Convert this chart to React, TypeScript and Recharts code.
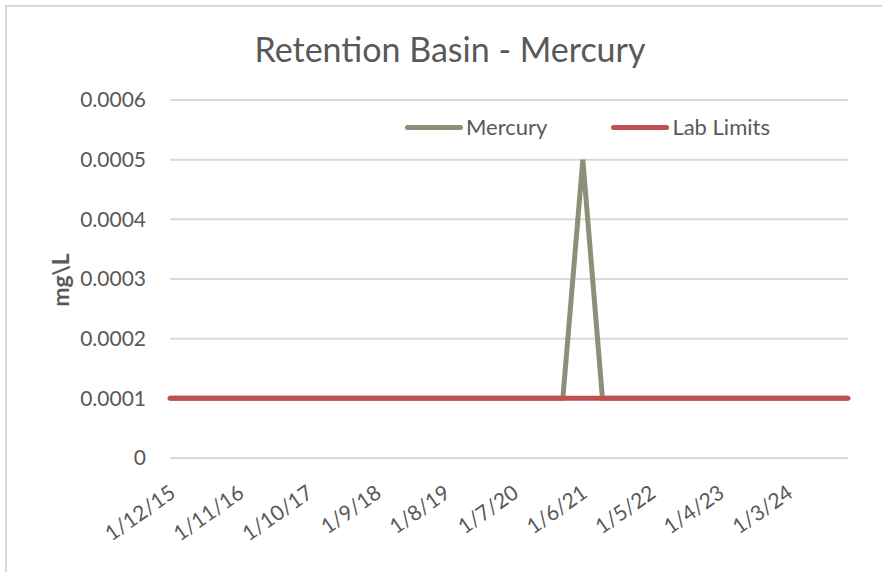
import React from "react";
import { LineChart, Line, XAxis, YAxis, CartesianGrid } from "recharts";

// sample dates (yyyy-mm-dd) and results in mg\L
const sampleDates = [
  "2015-01-12", "2015-07-13", "2016-01-11", "2016-07-11", "2017-01-09", "2017-07-10",
  "2018-01-08", "2018-07-09", "2019-01-07", "2019-07-08", "2020-01-06", "2020-07-06",
  "2020-09-28", "2021-01-12", "2021-04-26", "2021-07-12", "2022-01-10", "2022-07-11",
  "2023-01-09", "2023-07-10", "2024-01-08", "2024-07-08", "2024-11-20",
];
const mercury = [
  0.0001, 0.0001, 0.0001, 0.0001, 0.0001, 0.0001,
  0.0001, 0.0001, 0.0001, 0.0001, 0.0001, 0.0001,
  0.0001, 0.0005, 0.0001, 0.0001, 0.0001, 0.0001,
  0.0001, 0.0001, 0.0001, 0.0001, 0.0001,
];
const labLimits = [
  0.0001, 0.0001, 0.0001, 0.0001, 0.0001, 0.0001,
  0.0001, 0.0001, 0.0001, 0.0001, 0.0001, 0.0001,
  0.0001, 0.0001, 0.0001, 0.0001, 0.0001, 0.0001,
  0.0001, 0.0001, 0.0001, 0.0001, 0.0001,
];
const xTickDates = [
  "2015-01-12", "2016-01-11", "2017-01-10", "2018-01-09", "2019-01-08",
  "2020-01-07", "2021-01-06", "2022-01-05", "2023-01-04", "2024-01-03",
];
const yTicks = [0, 0.0001, 0.0002, 0.0003, 0.0004, 0.0005, 0.0006];

const MERCURY_COLOR = "#8b9079";
const LIMIT_COLOR = "#c0504d";
const TEXT = "#595959";
const FONT = "Lato, 'Open Sans', sans-serif";

const toTime = (s: string) => {
  const [y, m, d] = s.split("-").map(Number);
  return Date.UTC(y, m - 1, d);
};

const fmtDate = (t: number) => {
  const d = new Date(t);
  return `${d.getUTCMonth() + 1}/${d.getUTCDate()}/${String(d.getUTCFullYear()).slice(2)}`;
};

const data = sampleDates.map((s, i) => ({
  t: toTime(s),
  mercury: mercury[i],
  limit: labLimits[i],
}));

const xTicks = xTickDates.map(toTime);

function XTick(props: any) {
  const { x, y, payload } = props;
  return (
    <g transform={`translate(${x + 7},${y + 30})`}>
      <text
        textAnchor="end"
        transform="rotate(-35)"
        fill={TEXT}
        fontSize={21}
        fontFamily={FONT}
      >
        {fmtDate(payload.value)}
      </text>
    </g>
  );
}

function LegendBox() {
  const items = [
    { name: "Mercury", color: MERCURY_COLOR, gap: 0 },
    { name: "Lab Limits", color: LIMIT_COLOR, gap: 64 },
  ];
  return (
    <div
      style={{
        position: "absolute",
        left: 405,
        top: 113,
        display: "flex",
        fontFamily: FONT,
        fontSize: 22,
        color: TEXT,
        lineHeight: "28px",
      }}
    >
      {items.map((it) => (
        <div key={it.name} style={{ display: "flex", alignItems: "center", marginLeft: it.gap }}>
          <span
            style={{
              display: "inline-block",
              width: 58,
              height: 5,
              borderRadius: 3,
              background: it.color,
              marginRight: 3,
            }}
          />
          <span>{it.name}</span>
        </div>
      ))}
    </div>
  );
}

export default function App() {
  return (
    <div
      style={{
        position: "absolute",
        left: 0,
        top: 0,
        width: 882,
        height: 572,
        background: "#fff",
        fontFamily: FONT,
      }}
    >
      <div
        style={{
          position: "absolute",
          left: 5,
          top: 5,
          width: 877,
          height: 567,
          borderTop: "2px solid #d9d9d9",
          borderLeft: "2px solid #d9d9d9",
        }}
      />
      <div
        style={{
          position: "absolute",
          left: 0,
          width: 900,
          top: 29,
          textAlign: "center",
          fontSize: 34,
          lineHeight: "40px",
          color: TEXT,
        }}
      >
        Retention Basin - Mercury
      </div>
      <div
        style={{
          position: "absolute",
          left: 60,
          top: 280,
          transform: "translate(-50%, -50%) rotate(-90deg)",
          fontSize: 23,
          fontWeight: 700,
          color: TEXT,
          whiteSpace: "nowrap",
        }}
      >
        mg\L
      </div>
      <LineChart
        width={882}
        height={572}
        data={data}
        margin={{ top: 100, right: 34, bottom: 0, left: 0 }}
        style={{ position: "absolute", left: 0, top: 0 }}
      >
        <CartesianGrid vertical={false} stroke="#d9d9d9" strokeWidth={2} />
        <XAxis
          dataKey="t"
          type="number"
          scale="time"
          domain={[toTime(sampleDates[0]), toTime(sampleDates[sampleDates.length - 1])]}
          ticks={xTicks}
          tick={<XTick />}
          interval={0}
          axisLine={false}
          tickLine={false}
          height={114}
        />
        <YAxis
          domain={[0, 0.0006]}
          ticks={yTicks}
          width={170}
          axisLine={false}
          tickLine={false}
          tickSize={0}
          tickMargin={24}
          tick={{ fill: TEXT, fontSize: 21, fontFamily: FONT }}
          tickFormatter={(v: number) => (v === 0 ? "0" : v.toFixed(4))}
        />
        <Line
          dataKey="mercury"
          name="Mercury"
          stroke={MERCURY_COLOR}
          strokeWidth={5}
          dot={false}
          isAnimationActive={false}
        />
        <Line
          dataKey="limit"
          name="Lab Limits"
          stroke={LIMIT_COLOR}
          strokeWidth={5}
          strokeLinecap="round"
          dot={false}
          isAnimationActive={false}
        />
      </LineChart>
      <LegendBox />
    </div>
  );
}
